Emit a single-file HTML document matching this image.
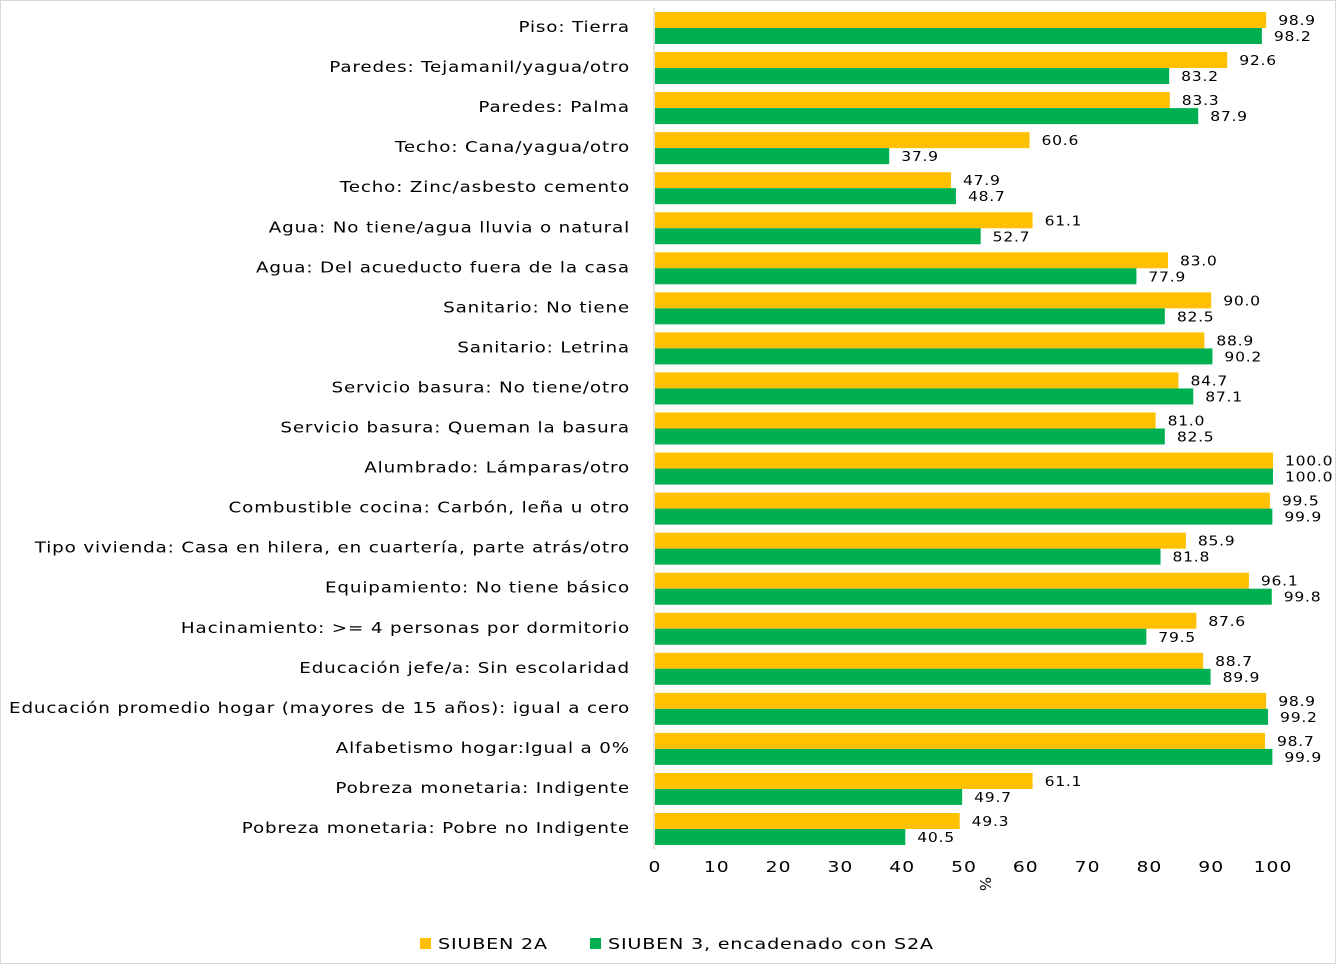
<!DOCTYPE html>
<html><head><meta charset="utf-8"><style>
body{margin:0;background:#fff;}
svg{display:block;font-family:"DejaVu Sans","Liberation Sans",sans-serif;}
</style></head><body>
<svg id="chart" width="1336" height="964">
<rect x="0.5" y="0.5" width="1335" height="963" fill="#fff" stroke="#d9d9d9"/>
<g id="bars"></g>
<line x1="654" y1="8" x2="654" y2="849" stroke="#d9d9d9" stroke-width="1.5"/>
<g id="ticks"></g>
<text x="980" y="884" font-size="15" text-anchor="middle" transform="rotate(90 980 884)">%</text>
<g>
<rect x="420" y="938" width="11" height="11" fill="#FFC000"/>
<text transform="translate(438 949) scale(1.28 1)" font-size="15" letter-spacing="0.6">SIUBEN 2A</text>
<rect x="590" y="938" width="11" height="11" fill="#00B050"/>
<text transform="translate(608 949) scale(1.28 1)" font-size="15" letter-spacing="0.6">SIUBEN 3, encadenado con S2A</text>
</g>
</svg>
<script>
const categories=["Piso: Tierra","Paredes: Tejamanil/yagua/otro","Paredes: Palma","Techo: Cana/yagua/otro","Techo: Zinc/asbesto cemento","Agua: No tiene/agua lluvia o natural","Agua: Del acueducto fuera de la casa","Sanitario: No tiene","Sanitario: Letrina","Servicio basura: No tiene/otro","Servicio basura: Queman la basura","Alumbrado: Lámparas/otro","Combustible cocina: Carbón, leña u otro","Tipo vivienda: Casa en hilera, en cuartería, parte atrás/otro","Equipamiento: No tiene básico","Hacinamiento: >= 4 personas por dormitorio","Educación jefe/a: Sin escolaridad","Educación promedio hogar (mayores de 15 años): igual a cero","Alfabetismo hogar:Igual a 0%","Pobreza monetaria: Indigente","Pobreza monetaria: Pobre no Indigente"];
const siuben2a=[98.9,92.6,83.3,60.6,47.9,61.1,83.0,90.0,88.9,84.7,81.0,100.0,99.5,85.9,96.1,87.6,88.7,98.9,98.7,61.1,49.3];
const siuben3=[98.2,83.2,87.9,37.9,48.7,52.7,77.9,82.5,90.2,87.1,82.5,100.0,99.9,81.8,99.8,79.5,89.9,99.2,99.9,49.7,40.5];
const tickValues=[0,10,20,30,40,50,60,70,80,90,100];
const NS="http://www.w3.org/2000/svg";
const x=v=>655+v*6.18;
const rowTop=i=>12+i*40.05;
const bars=document.getElementById('bars');
function mk(tag,attrs,parent){const e=document.createElementNS(NS,tag);for(const k in attrs)e.setAttribute(k,attrs[k]);parent.appendChild(e);return e;}
categories.forEach((c,i)=>{
  const y=rowTop(i);
  const lab=mk('text',{transform:`translate(630 ${y+20}) scale(1.22 1)`,'font-size':15,'letter-spacing':0.7,'text-anchor':'end'},bars);
  lab.textContent=c;
  
  
  const b1=mk('rect',{x:655,y:y,width:x(siuben2a[i])-655,height:16,fill:'#FFC000'},bars);
  
  
  const b2=mk('rect',{x:655,y:y+16,width:x(siuben3[i])-655,height:16,fill:'#00B050'},bars);
  
  
  const t1=mk('text',{transform:`translate(${x(siuben2a[i])+12} ${y+13}) scale(1.2 1)`,'font-size':13,'letter-spacing':0.6},bars);
  t1.textContent=siuben2a[i].toFixed(1);
  
  
  const t2=mk('text',{transform:`translate(${x(siuben3[i])+12} ${y+29}) scale(1.2 1)`,'font-size':13,'letter-spacing':0.6},bars);
  t2.textContent=siuben3[i].toFixed(1);
  
  
});
const ticks=document.getElementById('ticks');
tickValues.forEach(v=>{
  const t=mk('text',{transform:`translate(${x(v)} 872) scale(1.25 1)`,'font-size':15,'letter-spacing':0.8,'text-anchor':'middle'},ticks);
  t.textContent=v;
  
  
});
</script>
</body></html>
